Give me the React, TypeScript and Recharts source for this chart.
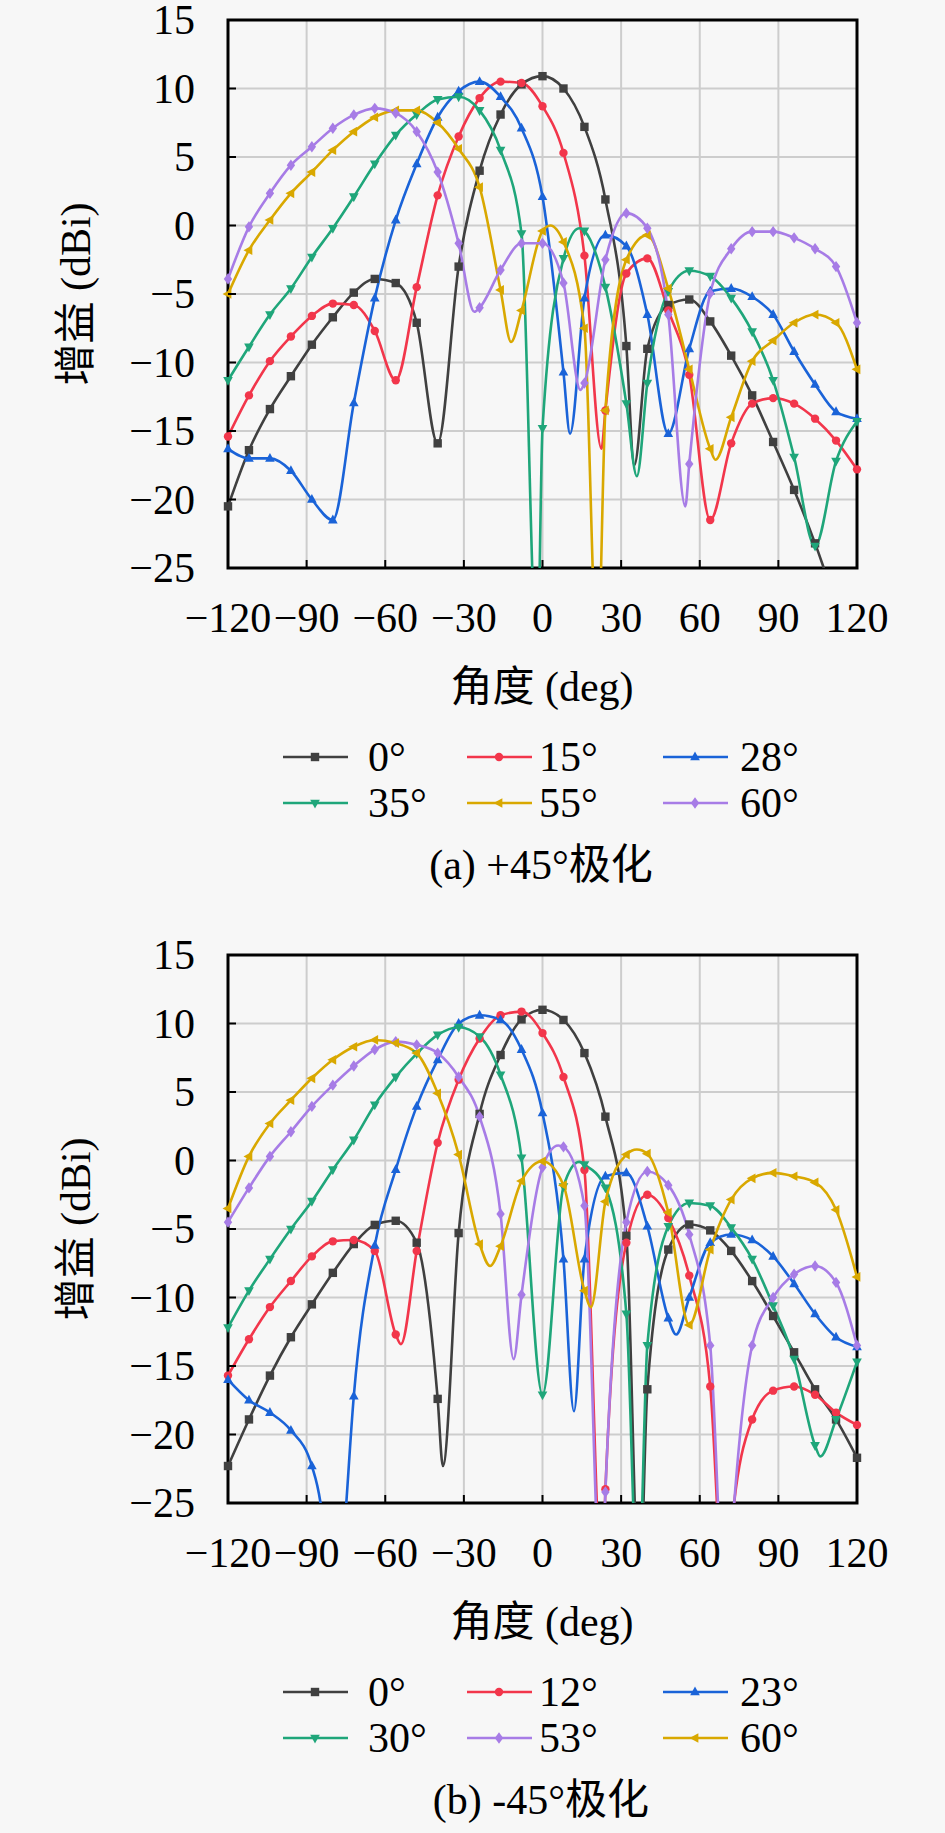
import React from 'react';
import { LineChart, Line, XAxis, YAxis, CartesianGrid, ReferenceArea } from 'recharts';

type Pt = [number, number];
type Shape = 'square' | 'circle' | 'up' | 'down' | 'left' | 'diamond';

const FONT = "'Liberation Serif', 'Times New Roman', Times, 'DejaVu Serif', 'Noto Sans CJK SC', serif";
const PANEL_H = 935;

const xTicks = [-120, -90, -60, -30, 0, 30, 60, 90, 120];
const yTicks = [-25, -20, -15, -10, -5, 0, 5, 10, 15];
const MARK_EVERY = 8;

// (a) +45° polarisation, gain in dBi against angle in degrees
const a0: Pt[] = [[-120,-20.5],[-112,-16.4],[-104,-13.4],[-96,-11.0],[-88,-8.7],[-80,-6.7],[-72,-4.9],[-64,-3.9],[-56,-4.2],[-48,-7.1],[-40,-15.9],[-32,-3.0],[-24,4.0],[-16,8.1],[-8,10.3],[0,10.9],[8,10.0],[16,7.2],[24,1.9],[32,-8.8],[35,-17.5],[40,-9.0],[48,-5.8],[56,-5.4],[64,-7.0],[72,-9.5],[80,-12.4],[88,-15.8],[96,-19.3],[104,-23.2],[112,-27.5],[120,-31]];
const a15: Pt[] = [[-120,-15.4],[-112,-12.4],[-104,-9.9],[-96,-8.1],[-88,-6.6],[-80,-5.7],[-72,-5.8],[-64,-7.7],[-56,-11.3],[-48,-4.5],[-40,2.2],[-32,6.5],[-24,9.3],[-16,10.5],[-8,10.4],[0,8.7],[8,5.3],[16,-2.2],[22.5,-16.3],[24,-13.5],[32,-3.5],[40,-2.4],[48,-6.2],[56,-10.9],[64,-21.5],[72,-15.9],[80,-13.0],[88,-12.6],[96,-13.0],[104,-14.1],[112,-15.7],[120,-17.8]];
const a28: Pt[] = [[-120,-16.3],[-112,-17.0],[-104,-17.0],[-96,-17.9],[-88,-20.0],[-80,-21.5],[-72,-12.95],[-64,-5.3],[-56,0.4],[-48,4.5],[-40,7.9],[-32,9.8],[-24,10.5],[-16,9.4],[-8,7.1],[0,2.1],[8,-10.7],[10.5,-15.2],[16,-5.3],[24,-0.7],[32,-1.5],[40,-6.5],[48,-15.2],[56,-9.0],[64,-4.8],[72,-4.6],[80,-5.2],[88,-6.5],[96,-9.2],[104,-11.6],[112,-13.6],[120,-14.1]];
const a35: Pt[] = [[-120,-11.3],[-112,-8.85],[-104,-6.5],[-96,-4.6],[-88,-2.3],[-80,-0.2],[-72,2.1],[-64,4.5],[-56,6.6],[-48,8.1],[-40,9.2],[-32,9.4],[-24,8.4],[-16,5.5],[-8,-0.6],[-2,-32],[0,-14.8],[8,-2.4],[14,-0.2],[16,-0.4],[24,-4.5],[32,-13],[36,-18.3],[40,-11.5],[48,-4.8],[56,-3.3],[64,-3.7],[72,-5.3],[80,-7.75],[88,-11.3],[96,-16.9],[104,-23.4],[112,-17.2],[120,-14.3]];
const a55: Pt[] = [[-120,-5.0],[-112,-1.8],[-104,0.4],[-96,2.35],[-88,3.9],[-80,5.5],[-72,6.85],[-64,7.9],[-56,8.4],[-48,8.4],[-40,7.5],[-32,5.6],[-24,2.8],[-16,-4.7],[-12,-8.5],[-8,-6.2],[0,-0.4],[3,0.0],[8,-1.2],[16,-7.5],[21,-32],[24,-13.5],[32,-2.5],[40,-0.7],[48,-4.6],[56,-10.5],[64,-16.3],[66,-17.1],[72,-14.0],[80,-9.9],[88,-8.4],[96,-7.1],[104,-6.5],[112,-7.1],[120,-10.5]];
const a60: Pt[] = [[-120,-3.9],[-112,-0.1],[-104,2.35],[-96,4.4],[-88,5.75],[-80,7.1],[-72,8.07],[-64,8.55],[-56,8.2],[-48,6.85],[-40,3.9],[-32,-1.3],[-26,-6.3],[-24,-6.0],[-16,-3.25],[-8,-1.3],[0,-1.3],[8,-4.2],[14.5,-12],[16,-11.5],[24,-2.5],[32,0.9],[40,-0.2],[48,-6.5],[54.5,-20.5],[56,-17.4],[64,-4.95],[72,-1.7],[80,-0.45],[88,-0.45],[96,-0.9],[104,-1.7],[112,-3.0],[120,-7.1]];

// (b) -45° polarisation
const b0: Pt[] = [[-120,-22.3],[-112,-18.9],[-104,-15.7],[-96,-12.9],[-88,-10.5],[-80,-8.2],[-72,-6.1],[-64,-4.7],[-56,-4.4],[-48,-6.0],[-40,-17.4],[-38,-22.3],[-32,-5.3],[-24,3.4],[-16,7.7],[-8,10.3],[0,11.0],[8,10.26],[16,7.84],[24,3.2],[32,-5.5],[37,-32],[40,-16.7],[48,-6.5],[56,-4.67],[64,-5.1],[72,-6.6],[80,-8.8],[88,-11.35],[96,-14.0],[104,-16.7],[112,-18.9],[120,-21.7]];
const b12: Pt[] = [[-120,-15.7],[-112,-13.05],[-104,-10.7],[-96,-8.8],[-88,-7.0],[-80,-5.9],[-72,-5.8],[-64,-6.6],[-56,-12.7],[-54,-13.4],[-48,-6.6],[-40,1.3],[-32,5.9],[-24,8.9],[-16,10.6],[-8,10.87],[0,9.3],[8,6.1],[16,-0.7],[23,-32],[24,-24],[32,-6.0],[40,-2.5],[48,-4.2],[56,-8.4],[64,-16.5],[70,-34],[72,-27],[80,-18.9],[88,-16.8],[96,-16.5],[104,-17.1],[112,-18.4],[120,-19.3]];
const b23: Pt[] = [[-120,-16.0],[-112,-17.5],[-104,-18.4],[-96,-19.7],[-88,-22.3],[-84,-26],[-80,-36],[-76,-28],[-72,-17.2],[-64,-6.2],[-56,-0.67],[-48,3.95],[-40,7.35],[-32,10.0],[-24,10.6],[-16,10.26],[-8,8.1],[0,3.47],[8,-7.2],[12,-18.3],[16,-7.2],[24,-1.15],[32,-0.9],[40,-4.8],[48,-11.5],[51,-12.7],[56,-10.0],[64,-6.0],[72,-5.4],[80,-5.8],[88,-7.0],[96,-9.0],[104,-11.2],[112,-12.9],[120,-13.6]];
const b30: Pt[] = [[-120,-12.2],[-112,-9.5],[-104,-7.2],[-96,-5.0],[-88,-2.97],[-80,-0.67],[-72,1.5],[-64,4.07],[-56,6.1],[-48,7.8],[-40,9.17],[-32,9.73],[-24,9.05],[-16,6.26],[-8,0.19],[0,-17.1],[8,-1.9],[14,-0.1],[16,-0.3],[24,-2.0],[32,-11.2],[36.5,-32],[40,-13.5],[48,-4.8],[56,-3.1],[64,-3.3],[72,-4.9],[80,-7.2],[88,-10.6],[96,-14.5],[104,-20.8],[106,-21.6],[112,-18.9],[120,-14.7]];
const b53: Pt[] = [[-120,-4.5],[-112,-2.0],[-104,0.3],[-96,2.1],[-88,3.95],[-80,5.5],[-72,6.9],[-64,8.1],[-56,8.68],[-48,8.44],[-40,7.84],[-32,6.1],[-24,3.2],[-16,-3.9],[-11,-14.5],[-8,-9.8],[0,-0.5],[6,1.1],[8,1.0],[16,-3.3],[22.5,-32],[24,-24.2],[32,-4.5],[40,-0.8],[48,-1.8],[56,-5.4],[64,-13.5],[70,-34],[72,-28],[80,-13.5],[88,-10.0],[96,-8.3],[104,-7.7],[112,-8.9],[120,-13.5]];
const b60: Pt[] = [[-120,-3.5],[-112,0.3],[-104,2.7],[-96,4.4],[-88,6.0],[-80,7.35],[-72,8.3],[-64,8.8],[-56,8.57],[-48,7.84],[-40,4.9],[-32,0.43],[-24,-6.1],[-20,-7.7],[-16,-6.25],[-8,-1.5],[0,-0.06],[8,-1.8],[16,-9.5],[18.5,-10.7],[24,-3.0],[32,0.43],[36,0.8],[40,0.5],[48,-3.8],[56,-12.0],[64,-6.5],[72,-2.85],[80,-1.3],[88,-0.9],[96,-1.15],[104,-1.6],[112,-3.6],[120,-8.5]];

const C = {
  black: '#404040',
  red: '#f2364b',
  blue: '#1a63d8',
  green: '#1fa67a',
  gold: '#d9a800',
  purple: '#a77ce6',
};

interface Series {
  name: string;
  color: string;
  shape: Shape;
  data: Pt[];
}

const seriesA: Series[] = [
  { name: '0°', color: C.black, shape: 'square', data: a0 },
  { name: '15°', color: C.red, shape: 'circle', data: a15 },
  { name: '28°', color: C.blue, shape: 'up', data: a28 },
  { name: '35°', color: C.green, shape: 'down', data: a35 },
  { name: '55°', color: C.gold, shape: 'left', data: a55 },
  { name: '60°', color: C.purple, shape: 'diamond', data: a60 },
];

const seriesB: Series[] = [
  { name: '0°', color: C.black, shape: 'square', data: b0 },
  { name: '12°', color: C.red, shape: 'circle', data: b12 },
  { name: '23°', color: C.blue, shape: 'up', data: b23 },
  { name: '30°', color: C.green, shape: 'down', data: b30 },
  { name: '53°', color: C.purple, shape: 'diamond', data: b53 },
  { name: '60°', color: C.gold, shape: 'left', data: b60 },
];

const fmt = (v: number) => (v < 0 ? `\u2212${Math.abs(v)}` : String(v));

function Marker({ shape, x, y, color, s = 4.2 }: { shape: Shape; x: number; y: number; color: string; s?: number }) {
  switch (shape) {
    case 'square':
      return <rect x={x - s} y={y - s} width={2 * s} height={2 * s} fill={color} />;
    case 'circle':
      return <circle cx={x} cy={y} r={s} fill={color} />;
    case 'up':
      return <polygon points={`${x},${y - s * 1.3} ${x + s * 1.15},${y + s * 0.8} ${x - s * 1.15},${y + s * 0.8}`} fill={color} />;
    case 'down':
      return <polygon points={`${x},${y + s * 1.3} ${x + s * 1.15},${y - s * 0.8} ${x - s * 1.15},${y - s * 0.8}`} fill={color} />;
    case 'left':
      return <polygon points={`${x - s * 1.3},${y} ${x + s * 0.8},${y - s * 1.15} ${x + s * 0.8},${y + s * 1.15}`} fill={color} />;
    default:
      return <polygon points={`${x},${y - s * 1.35} ${x + s},${y} ${x},${y + s * 1.35} ${x - s},${y}`} fill={color} />;
  }
}

const dotFor = (shape: Shape, color: string) => (props: any) => {
  const { cx, cy, payload, index } = props;
  if (payload.x % MARK_EVERY !== 0 || payload.y < -25 || payload.y > 15) return <g key={index} />;
  return (
    <g key={index}>
      <Marker shape={shape} x={cx} y={cy} color={color} />
    </g>
  );
};

const XTick = (p: any) => (
  <g>
    <line x1={p.x} x2={p.x} y1={p.y} y2={p.y - 8} stroke="#000" strokeWidth={2} />
    <text x={p.x} y={p.y + 50} textAnchor="middle" dominantBaseline="central" fontSize={42} fontFamily={FONT} fill="#000">
      {fmt(p.payload.value)}
    </text>
  </g>
);

const YTick = (p: any) => (
  <g>
    <line x1={p.x} x2={p.x + 8} y1={p.y} y2={p.y} stroke="#000" strokeWidth={2} />
    <text x={p.x - 33} y={p.y} textAnchor="end" dominantBaseline="central" fontSize={42} fontFamily={FONT} fill="#000">
      {fmt(p.payload.value)}
    </text>
  </g>
);

// legend layout: three columns, two rows
const legendLineX = [283, 467, 663];
const legendTextX = [368, 539, 740];
const legendRowY = [37, 83];

// the chart svg starts a little above the panel so the top tick label is not clipped
const LIFT = 24;

function Panel({ series, caption, top }: { series: Series[]; caption: string; top: number }) {
  const textStyle: React.CSSProperties = {
    position: 'absolute',
    fontFamily: FONT,
    fontSize: 42,
    whiteSpace: 'nowrap',
    color: '#000',
    lineHeight: 1,
  };
  return (
    <div style={{ position: 'absolute', left: 0, top, width: 945, height: PANEL_H }}>
      <div style={{ position: 'absolute', left: 0, top: -LIFT }}>
        <LineChart width={945} height={650 + LIFT} margin={{ top: 20 + LIFT, right: 88, left: 0, bottom: 0 }}>
          <CartesianGrid stroke="#cdcdcd" strokeWidth={2} />
          <XAxis
            type="number"
            dataKey="x"
            domain={[-120, 120]}
            ticks={xTicks}
            interval={0}
            height={82}
            axisLine={false}
            tickLine={false}
            tickSize={0}
            tickMargin={0}
            tick={XTick}
          />
          <YAxis
            type="number"
            dataKey="y"
            domain={[-25, 15]}
            ticks={yTicks}
            interval={0}
            width={228}
            allowDataOverflow
            axisLine={false}
            tickLine={false}
            tickSize={0}
            tickMargin={0}
            tick={YTick}
          />
          {series.map((s) => (
            <Line
              key={s.name + s.color}
              data={s.data.map(([x, y]) => ({ x, y }))}
              dataKey="y"
              type="monotone"
              stroke={s.color}
              strokeWidth={2.6}
              dot={dotFor(s.shape, s.color)}
              activeDot={false}
              isAnimationActive={false}
            />
          ))}
          <ReferenceArea x1={-120} x2={120} y1={-25} y2={15} fill="none" stroke="#000" strokeWidth={3} />
        </LineChart>
      </div>
      <div style={{ ...textStyle, left: 76, top: 294, transform: 'translate(-50%, -50%) rotate(-90deg)' }}>增益 (dBi)</div>
      <div style={{ ...textStyle, left: 542, top: 687, transform: 'translate(-50%, -50%)' }}>角度 (deg)</div>
      <svg style={{ position: 'absolute', left: 0, top: 720 }} width={945} height={120}>
        {series.map((s, i) => {
          const col = i % 3;
          const row = Math.floor(i / 3);
          const x0 = legendLineX[col];
          const y0 = legendRowY[row];
          return (
            <g key={s.name + i}>
              <line x1={x0} x2={x0 + 65} y1={y0} y2={y0} stroke={s.color} strokeWidth={2.6} />
              <Marker shape={s.shape} x={x0 + 32} y={y0} color={s.color} />
              <text x={legendTextX[col]} y={y0} dominantBaseline="central" fontSize={42} fontFamily={FONT} fill="#000">
                {s.name}
              </text>
            </g>
          );
        })}
      </svg>
      <div style={{ ...textStyle, left: 541, top: 865, transform: 'translate(-50%, -50%)' }}>{caption}</div>
    </div>
  );
}

export default function App() {
  return (
    <div style={{ position: 'absolute', left: 0, top: 0, width: 945, height: 1833, background: '#f7f7f7', overflow: 'hidden' }}>
      <Panel series={seriesA} caption="(a) +45°极化" top={0} />
      <Panel series={seriesB} caption="(b) -45°极化" top={PANEL_H} />
    </div>
  );
}
